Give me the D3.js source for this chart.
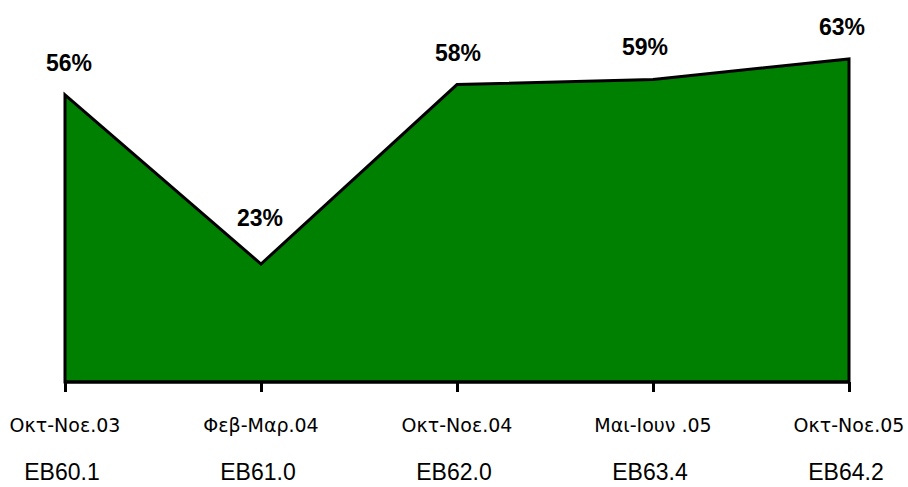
<!DOCTYPE html>
<html>
<head>
<meta charset="utf-8">
<script src="https://cdn.jsdelivr.net/npm/d3@7"></script>
<style>
  body { margin: 0; background: #fff; }
</style>
</head>
<body>
<div id="chart"></div>
<script>
// data
var periods = ["Οκτ-Νοε.03", "Φεβ-Μαρ.04", "Οκτ-Νοε.04", "Μαι-Ιουν .05", "Οκτ-Νοε.05"];
var waves = ["EB60.1", "EB61.0", "EB62.0", "EB63.4", "EB64.2"];
var values = [56, 23, 58, 59, 63];

var width = 908, height = 487;
var svg = d3.select("#chart").append("svg")
    .attr("width", width)
    .attr("height", height);

var x = d3.scalePoint()
    .domain(periods)
    .range([65, 849]);

var y = d3.scaleLinear()
    .domain([0, 70])
    .range([382, 23]);

var data = periods.map(function(p, i) { return {p: p, w: waves[i], v: values[i]}; });

var area = d3.area()
    .x(function(d) { return x(d.p); })
    .y0(y(0))
    .y1(function(d) { return y(d.v); });

svg.append("path")
    .datum(data)
    .attr("d", area)
    .attr("fill", "#008000")
    .attr("stroke", "#000")
    .attr("stroke-width", 3)
    .attr("stroke-linejoin", "miter");

// bottom axis
var axis = svg.append("g")
    .attr("transform", "translate(0," + y(0) + ")")
    .call(d3.axisBottom(x).tickSize(10).tickFormat(""));
axis.select(".domain").attr("stroke", "#000").attr("stroke-width", 3)
    .attr("d", "M" + x.range()[0] + ",0H" + x.range()[1]);
axis.selectAll(".tick line").attr("stroke", "#000").attr("stroke-width", 3);

// value labels
svg.selectAll(".val")
    .data(data)
  .enter().append("text")
    .attr("class", "val")
    .attr("x", function(d, i) { return x(d.p) + [4, -1, 1, -8, -7][i]; })
    .attr("y", function(d, i) { return y(d.v) - (i == 1 ? 38 : 24); })
    .attr("text-anchor", "middle")
    .attr("font-family", "Liberation Sans, Arial, sans-serif")
    .attr("font-weight", "bold")
    .attr("font-size", 23)
    .attr("fill", "#000")
    .text(function(d) { return d.v + "%"; });

// period labels
svg.selectAll(".per")
    .data(data)
  .enter().append("text")
    .attr("class", "per")
    .attr("x", function(d) { return x(d.p); })
    .attr("y", 432)
    .attr("text-anchor", "middle")
    .attr("font-family", "DejaVu Sans, sans-serif")
    .attr("font-size", 19)
    .attr("fill", "#000")
    .text(function(d) { return d.p; });

// wave labels
svg.selectAll(".wave")
    .data(data)
  .enter().append("text")
    .attr("class", "wave")
    .attr("x", function(d) { return x(d.p) - 3; })
    .attr("y", 480)
    .attr("text-anchor", "middle")
    .attr("font-family", "Liberation Sans, Arial, sans-serif")
    .attr("font-size", 23)
    .attr("fill", "#000")
    .text(function(d) { return d.w; });
</script>
</body>
</html>
